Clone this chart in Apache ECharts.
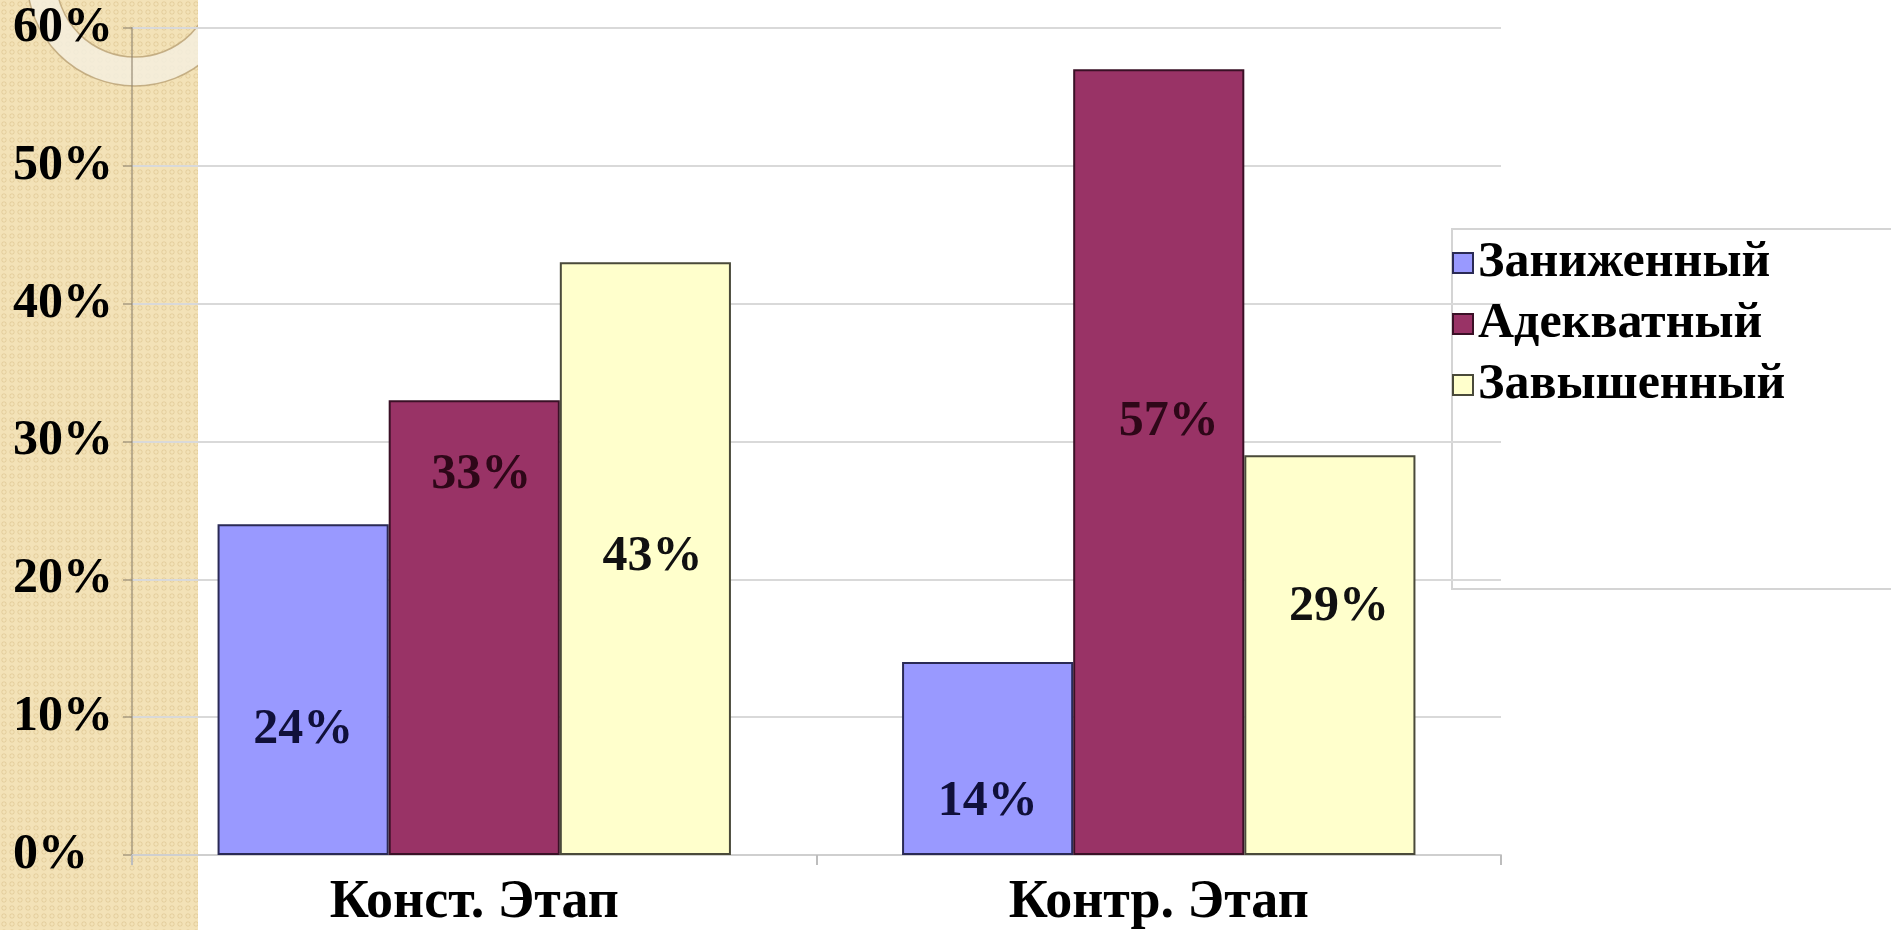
<!DOCTYPE html>
<html>
<head>
<meta charset="utf-8">
<script src="https://cdn.jsdelivr.net/npm/echarts@6/dist/echarts.min.js"></script>
<style>
html,body{margin:0;padding:0;background:#fff;}
#chart{width:1891px;height:930px;}
</style>
</head>
<body>
<div id="chart"></div>
<script>
const categories = ['Конст. Этап', 'Контр. Этап'];
const seriesNames = ['Заниженный', 'Адекватный', 'Завышенный'];
const zanizhenny = [24, 14];
const adekvatny = [33, 57];
const zavyshenny = [43, 29];
const yTicks = [0, 10, 20, 30, 40, 50, 60];

// label placement (pixel offsets from bar centre), styling only
const labelOffsets = [
  [[0, 40], [0, 44]],
  [[7, -152], [10, -40]],
  [[7, -2], [9, -48]]
];
const colors = ['#9999FF', '#993366', '#FFFFCC'];
const labelColors = ['#10103a', '#2e0718', '#111111'];
const borderColors = ['#2a2a55', '#3a1026', '#4a4a3a'];

const FONT = 'Liberation Serif';
const LEGEND_FONT = '"Times New Roman", "Liberation Serif", serif';

// pattern for the tan strip
const pc = document.createElement('canvas');
pc.width = 8; pc.height = 8;
const pctx = pc.getContext('2d');
pctx.fillStyle = '#F3E2B7';
pctx.fillRect(0, 0, 8, 8);
pctx.strokeStyle = 'rgba(200,170,110,0.35)';
pctx.lineWidth = 1;
pctx.beginPath();
pctx.arc(4, 4, 2.2, 0, Math.PI * 2);
pctx.stroke();

const chart = echarts.init(document.getElementById('chart'), null, {renderer: 'canvas'});

const seriesData = [zanizhenny, adekvatny, zavyshenny];
const series = seriesData.map((arr, si) => ({
  name: seriesNames[si],
  type: 'bar',
  barGap: '0%',
  barCategoryGap: '25%',
  itemStyle: {color: colors[si], borderColor: borderColors[si], borderWidth: 2},
  emphasis: {disabled: true},
  data: arr.map((v, ci) => ({
    value: v,
    label: {offset: labelOffsets[si][ci]}
  })),
  label: {
    show: true,
    position: 'inside',
    formatter: p => p.value + '%',
    fontFamily: FONT,
    fontWeight: 'bold',
    fontSize: 50,
    color: labelColors[si]
  }
}));

chart.setOption({
  animation: false,
  backgroundColor: 'transparent',
  textStyle: {fontFamily: LEGEND_FONT},
  graphic: [
    {type: 'rect', z: -20, shape: {x: 0, y: 0, width: 198, height: 930},
     style: {fill: {image: pc, repeat: 'repeat'}}},
    {type: 'ring', z: -19, shape: {cx: 135, cy: -22, r: 108, r0: 79},
     style: {fill: 'rgba(245,238,222,0.85)', stroke: 'rgba(185,160,115,0.8)', lineWidth: 1.5}},
    {type: 'rect', z: -18, shape: {x: 198, y: 0, width: 1693, height: 930},
     style: {fill: '#ffffff'}},
    {type: 'rect', z: -5, shape: {x: 1452, y: 229, width: 460, height: 360},
     style: {fill: 'none', stroke: '#d4d4d4', lineWidth: 2}}
  ],
  legend: {
    orient: 'vertical',
    left: 1452,
    top: 238,
    itemWidth: 20,
    itemHeight: 20,
    itemGap: 11,
    icon: 'rect',
    padding: 0,
    textStyle: {fontFamily: LEGEND_FONT, fontWeight: 'bold', fontSize: 50, color: '#000'},
    data: seriesNames
  },
  grid: {left: 132, right: 390, top: 28, bottom: 74, containLabel: false},
  xAxis: {
    type: 'category',
    data: categories,
    axisLine: {lineStyle: {color: '#cfcfcf', width: 2}},
    axisTick: {show: true, length: 10, lineStyle: {color: '#bdbdbd', width: 2}},
    axisLabel: {fontFamily: FONT, fontWeight: 'bold', fontSize: 54, color: '#000', margin: 21}
  },
  yAxis: {
    type: 'value',
    min: 0, max: 60, interval: 10,
    axisLine: {show: true, lineStyle: {color: 'rgba(140,130,110,0.55)', width: 2}},
    axisTick: {show: true, length: 9, lineStyle: {color: 'rgba(140,130,110,0.55)', width: 2}},
    splitLine: {lineStyle: {color: '#d9d9d9', width: 2}},
    axisLabel: {
      fontFamily: FONT, fontWeight: 'bold', fontSize: 50, color: '#000',
      align: 'left', margin: 119,
      formatter: v => (yTicks.indexOf(v) >= 0 ? v + '%' : '')
    }
  },
  series: series
});
</script>
</body>
</html>
